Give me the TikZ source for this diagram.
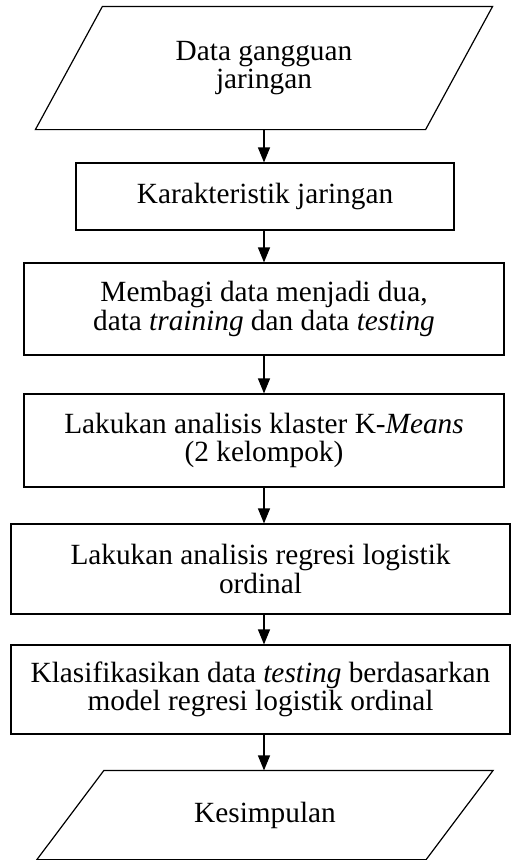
\documentclass[tikz,border=0pt]{standalone}
\usepackage{fontspec}
\setmainfont{Liberation Serif}
\usetikzlibrary{arrows.meta}
\begin{document}
\begin{tikzpicture}[x=1pt,y=-1pt,line width=1.2pt,
  txt/.style={font=\fontsize{29.3}{28.5}\selectfont,align=center,inner sep=0pt},
  procbox/.style={txt,draw,rectangle},
  arr/.style={-{Triangle[length=15pt,width=12pt]}}]
\useasboundingbox (0,0) rectangle (511,860);
\coordinate (ax) at (264,0);
% top parallelogram
\node[txt,minimum width=389pt,minimum height=122pt] (p1) at (264,68) {Data gangguan\\jaringan};
\draw ([xshift=33.5pt]p1.north west) -- ([xshift=33.5pt]p1.north east)
  -- ([xshift=-33.5pt]p1.south east) -- ([xshift=-33.5pt]p1.south west) -- cycle;
\node[procbox,minimum width=378pt,minimum height=67pt] (b2) at (265,196.5) {Karakteristik jaringan};
\node[procbox,minimum width=480pt,minimum height=92pt] (b3) at (264,309) {Membagi data menjadi dua,\\data \textit{training} dan data \textit{testing}};
\node[procbox,minimum width=480pt,minimum height=93pt] (b4) at (264,440.5) {Lakukan analisis klaster K-\textit{Means}\\(2 kelompok)};
\node[procbox,minimum width=499pt,minimum height=90pt] (b5) at (260.5,569) {Lakukan analisis regresi logistik\\ordinal};
\node[procbox,minimum width=499pt,minimum height=89pt] (b6) at (260.5,689.5) {Klasifikasikan data \textit{testing} berdasarkan\\model regresi logistik ordinal};
% bottom parallelogram
\node[txt,minimum width=388pt,minimum height=88pt] (p2) at (265,815) {Kesimpulan};
\draw ([xshift=33.5pt]p2.north west) -- ([xshift=33.5pt]p2.north east)
  -- ([xshift=-33.5pt]p2.south east) -- ([xshift=-33.5pt]p2.south west) -- cycle;
% arrows
\draw[arr] (p1.south -| ax) -- (b2.north -| ax);
\draw[arr] (b2.south -| ax) -- (b3.north -| ax);
\draw[arr] (b3.south -| ax) -- (b4.north -| ax);
\draw[arr] (b4.south -| ax) -- (b5.north -| ax);
\draw[arr] (b5.south -| ax) -- (b6.north -| ax);
\draw[arr] (b6.south -| ax) -- (p2.north -| ax);
\end{tikzpicture}
\end{document}
